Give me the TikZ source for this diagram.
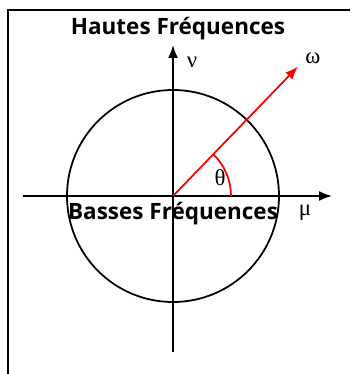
\documentclass[tikz,border=0pt]{standalone}
\usepackage{fontspec}
\setsansfont{Open Sans}
\newfontfamily\greekfont{Liberation Serif}
\usetikzlibrary{arrows.meta}

\begin{document}
\begin{tikzpicture}[>={Latex[length=0.26cm, width=0.2cm]},
    axis/.style={->, line width=1pt},
    band/.style={font=\sffamily\bfseries\fontsize{12.8}{15}\selectfont, inner sep=0pt, anchor=base},
    greek/.style={font=\greekfont\fontsize{13}{15}\selectfont, inner sep=0pt}]
    \useasboundingbox (-3.46,-3.56) rectangle (3.54,3.92);
    % Frame
    \draw[line width=1.3pt] (-3.3,-3.56) -- (-3.3,3.72) -- (3.54,3.72);

    % Nodes
    \coordinate (O) at (0, 0);
    \coordinate (xl) at (-3.0, 0);
    \coordinate (xr) at (3.18, 0);
    \coordinate (yb) at (0, -3.12);
    \coordinate (yt) at (0, 3.02);
    \coordinate (w) at (46:3.6);
    \coordinate (a0) at (1.16, 0);
    \node[band] (HF) at (0.1, 3.22) {Hautes Fréquences};
    \node[greek] (nu) at (0.38, 2.68) {ν};
    \node[greek] (mu) at (2.64, -0.34) {μ};
    \node[greek] (omega) at (2.8, 2.76) {ω};
    \node[greek] (theta) at (0.94, 0.36) {θ};

    % Circle and axes
    \draw[line width=1pt] (O) circle (2.12);
    \draw[axis] (xl) -- (xr);
    \draw[axis] (yb) -- (yt);

    % Vector and angle
    \draw[->, red, line width=1pt] (O) -- (w);
    \draw[red, line width=1pt] (a0) arc[start angle=0, end angle=46, radius=1.16];

    \node[band] (BF) at (0, -0.48) {Basses Fréquences};
\end{tikzpicture}
\end{document}
